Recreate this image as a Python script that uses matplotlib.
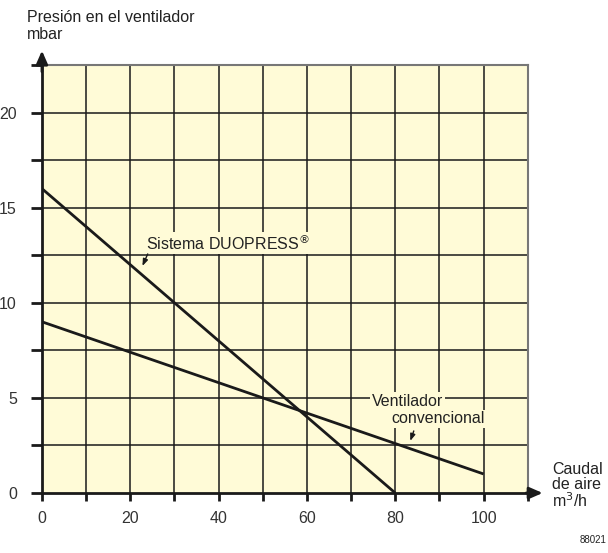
import matplotlib.pyplot as plt

plt.rcParams['font.family'] = ['Liberation Sans', 'DejaVu Sans']

# datos de las curvas
caudal_duo = [0, 80]
presion_duo = [16, 0]
caudal_conv = [0, 100]
presion_conv = [9, 1]

x_ticks = [0, 10, 20, 30, 40, 50, 60, 70, 80, 90, 100, 110]
x_labels = ['0', '', '20', '', '40', '', '60', '', '80', '', '100', '']
y_ticks = [0, 2.5, 5, 7.5, 10, 12.5, 15, 17.5, 20, 22.5]
y_labels = ['0', '', '5', '', '10', '', '15', '', '20', '']

fs = 11.5

fig = plt.figure(figsize=(6.08, 5.53), dpi=100)
ax = fig.add_axes([0.069, 0.1085, 0.799, 0.774])
ax.set_facecolor('#fffbd7')
ax.set_xlim(0, 110)
ax.set_ylim(0, 22.5)

# rejilla
for xv in x_ticks[1:-1]:
    ax.axvline(xv, color='#1a1a1a', lw=1.1, zorder=1)
for yv in y_ticks[1:-1]:
    ax.axhline(yv, color='#1a1a1a', lw=1.1, zorder=1)

ax.plot(caudal_duo, presion_duo, color='#1a1a1a', lw=2, zorder=3, solid_capstyle='butt')
ax.plot(caudal_conv, presion_conv, color='#1a1a1a', lw=2, zorder=3, solid_capstyle='butt')

ax.set_xticks(x_ticks)
ax.set_xticklabels(x_labels)
ax.set_yticks(y_ticks)
ax.set_yticklabels(y_labels)
ax.tick_params(axis='x', direction='out', length=6, width=2, color='#1a1a1a',
               labelsize=fs, labelcolor='#333333', pad=7)
ax.tick_params(axis='y', direction='out', length=8, width=2, color='#1a1a1a',
               labelsize=fs, labelcolor='#333333', pad=10)

for s in ['top', 'right']:
    ax.spines[s].set_color('#777777')
    ax.spines[s].set_linewidth(1.5)
for s in ['left', 'bottom']:
    ax.spines[s].set_color('#1a1a1a')
    ax.spines[s].set_linewidth(2)

# flechas de los ejes
ax.annotate('', xy=(114, 0), xytext=(109, 0), annotation_clip=False,
            arrowprops=dict(arrowstyle='-|>,head_width=0.35,head_length=0.8',
                            color='#1a1a1a', lw=2))
ax.annotate('', xy=(0, 23.4), xytext=(0, 22), annotation_clip=False,
            arrowprops=dict(arrowstyle='-|>,head_width=0.35,head_length=0.8',
                            color='#1a1a1a', lw=2))

# etiquetas de las curvas
box = dict(facecolor='#fffbd7', edgecolor='none', pad=1)
ax.text(23.5, 13.15, 'Sistema DUOPRESS$^{®}$', fontsize=fs, color='#222222',
        va='center', ha='left', bbox=box, zorder=4)
ax.annotate('', xy=(22.5, 11.8), xytext=(24.2, 12.7),
            arrowprops=dict(arrowstyle='-|>,head_width=0.15,head_length=0.4',
                            color='#1a1a1a', lw=1), zorder=4)
ax.text(74.7, 4.83, 'Ventilador', fontsize=fs, color='#222222',
        va='center', ha='left', bbox=box, zorder=4)
ax.text(100.2, 3.9, 'convencional', fontsize=fs, color='#222222',
        va='center', ha='right', bbox=box, zorder=4)
ax.annotate('', xy=(83.2, 2.6), xytext=(84.4, 3.4),
            arrowprops=dict(arrowstyle='-|>,head_width=0.15,head_length=0.4',
                            color='#1a1a1a', lw=1), zorder=4)

# títulos de los ejes
fig.text(27 / 608, 1 - 26 / 553, 'Presión en el ventilador\nmbar', fontsize=fs,
         color='#222222', va='center', ha='left', linespacing=1.15)
fig.text(552 / 608, 1 - 486 / 553, 'Caudal\nde aire\nm$^3$/h', fontsize=fs,
         color='#222222', va='center', ha='left', linespacing=1.0)
fig.text(580 / 608, 1 - 540 / 553, '88021', fontsize=7, color='#222222',
         va='center', ha='left')

fig.savefig('out.png', dpi=100)
